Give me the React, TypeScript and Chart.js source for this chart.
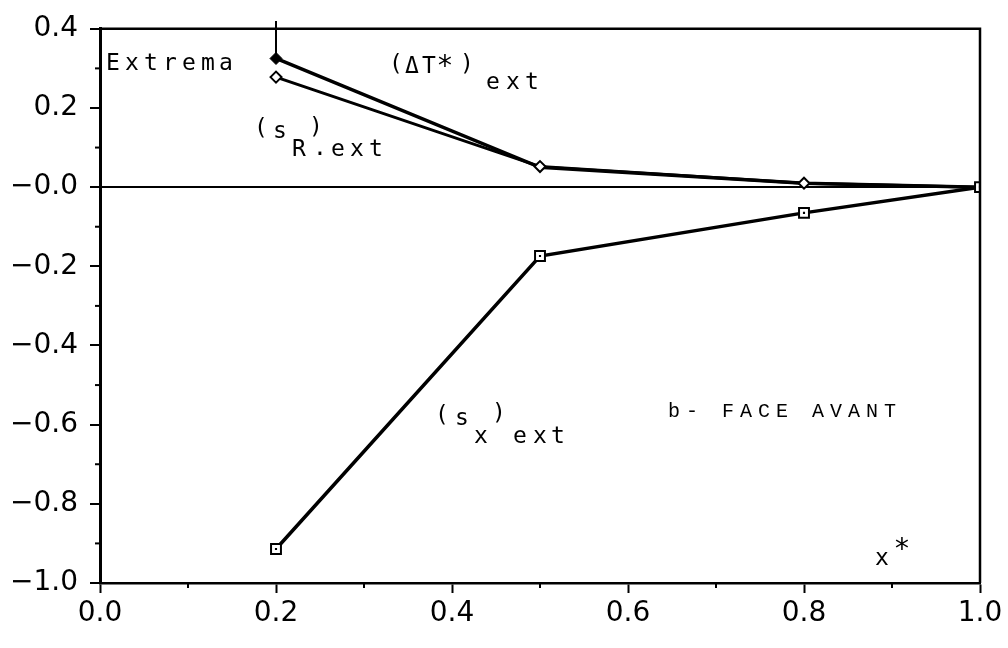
import React, { useEffect, useRef } from "react";
import { Chart, registerables } from "chart.js";

Chart.register(...registerables);

// ---- data ----
const xPositions = [0.2, 0.5, 0.8, 1.0];
const deltaTExt = [0.325, 0.05, 0.01, 0.0];
const sRExt = [0.278, 0.052, 0.01, 0.0];
const sXExt = [-0.914, -0.174, -0.065, 0.0];
const extremaMarkX = [0.2, 0.2];
const extremaMarkY = [0.325, 0.42];
const xTickLabels = ["0.0", "0.2", "0.4", "0.6", "0.8", "1.0"];
const yTickLabels = ["−1.0", "−0.8", "−0.6", "−0.4", "−0.2", "−0.0", "0.2", "0.4"];

const MONO = '"DejaVu Sans Mono", monospace';
const TYPE = '"Liberation Mono", "Courier New", monospace';
const TICKFONT = '"DejaVu Sans", sans-serif';

function glyphs(
  ctx: CanvasRenderingContext2D,
  chars: string,
  centers: number[],
  baselines: number | number[],
  font: string
) {
  ctx.font = font;
  ctx.textAlign = "center";
  ctx.textBaseline = "alphabetic";
  ctx.fillStyle = "#000";
  Array.from(chars).forEach((c, i) => {
    const b = Array.isArray(baselines) ? baselines[i] : baselines;
    ctx.fillText(c, centers[i], b);
  });
}

const framePlugin = {
  id: "frameAndNotes",
  afterDatasetsDraw(chart: any) {
    const { ctx, chartArea } = chart;
    const xs = chart.scales.x;
    const ys = chart.scales.y;
    ctx.save();
    ctx.strokeStyle = "#000";
    // top and right frame
    ctx.lineWidth = 2.5;
    ctx.beginPath();
    ctx.moveTo(chartArea.left, chartArea.top);
    ctx.lineTo(chartArea.right, chartArea.top);
    ctx.lineTo(chartArea.right, chartArea.bottom);
    ctx.stroke();
    // minor ticks
    ctx.lineWidth = 2;
    ys.ticks.forEach((t: any, i: number) => {
      if (i % 2 === 1) {
        const p = ys.getPixelForTick(i);
        ctx.beginPath();
        ctx.moveTo(chartArea.left - 5, p);
        ctx.lineTo(chartArea.left + 2, p);
        ctx.stroke();
      }
    });
    xs.ticks.forEach((t: any, i: number) => {
      if (i % 2 === 1) {
        const p = xs.getPixelForTick(i);
        ctx.beginPath();
        ctx.moveTo(p, chartArea.bottom - 1);
        ctx.lineTo(p, chartArea.bottom + 5);
        ctx.stroke();
      }
    });

    // annotations
    const f = `23px ${MONO}`;
    const star = `28px ${MONO}`;
    glyphs(ctx, "Extrema", [113, 132, 151, 170, 189, 208, 226], 70, f);

    glyphs(ctx, "(ΔT", [396, 412, 429], [71, 73, 73], f);
    glyphs(ctx, "*", [445], 75, star);
    glyphs(ctx, ")", [467], 71, f);
    glyphs(ctx, "ext", [493, 513, 532], 89, f);

    glyphs(ctx, "(s", [261, 280], [135, 138], f);
    glyphs(ctx, "R", [299], 156, f);
    glyphs(ctx, ")", [316], 134, f);
    glyphs(ctx, ".", [320], 155, f);
    glyphs(ctx, "ext", [338, 357, 376], 156, f);

    glyphs(ctx, "(s", [442, 462], [422, 425], f);
    glyphs(ctx, "x", [481], 443, f);
    glyphs(ctx, ")", [499], 420, f);
    glyphs(ctx, "ext", [520, 540, 558], 443, f);

    const face = "b- FACE AVANT";
    glyphs(
      ctx,
      face,
      Array.from(face).map((_, i) => 674 + 18 * i),
      417,
      `20px ${TYPE}`
    );

    glyphs(ctx, "x", [882], 565, f);
    glyphs(ctx, "*", [902], 558, star);
    ctx.restore();
  },
};

export default function App() {
  const ref = useRef<HTMLCanvasElement | null>(null);

  useEffect(() => {
    if (!ref.current) return;
    const pts = (ys: number[]) => xPositions.map((x, i) => ({ x, y: ys[i] }));
    const chart = new Chart(ref.current, {
      type: "line",
      data: {
        datasets: [
          {
            label: "(s_x)ext",
            data: pts(sXExt),
            borderColor: "#000",
            borderWidth: 3.5,
            pointStyle: "rect",
            pointRadius: 7,
            pointBorderWidth: 2,
            pointBackgroundColor: "#fff",
            pointBorderColor: "#000",
            order: 0,
          },
          {
            label: "(s_x)ext centre",
            data: pts(sXExt),
            showLine: false,
            pointStyle: "rect",
            pointRadius: 1.5,
            pointBorderWidth: 0,
            pointBackgroundColor: "#000",
            order: -1,
          },
          {
            label: "(s_R)ext",
            data: pts(sRExt),
            borderColor: "#000",
            borderWidth: 3,
            pointStyle: "rectRot",
            pointRadius: [5.5, 5.5, 5.5, 0],
            pointBorderWidth: 2,
            pointBackgroundColor: "#fff",
            pointBorderColor: "#000",
            order: 1,
          },
          {
            label: "(ΔT*)ext",
            data: pts(deltaTExt),
            borderColor: "#000",
            borderWidth: 3.5,
            pointStyle: "rectRot",
            pointRadius: [6, 0, 0, 0],
            pointBorderWidth: 1,
            pointBackgroundColor: "#000",
            pointBorderColor: "#000",
            order: 2,
          },
          {
            label: "extrema mark",
            data: extremaMarkX.map((x, i) => ({ x, y: extremaMarkY[i] })),
            borderColor: "#000",
            borderWidth: 2,
            pointRadius: 0,
            clip: false as any,
            order: 3,
          },
        ],
      },
      options: {
        animation: false,
        responsive: false,
        maintainAspectRatio: false,
        layout: { padding: { top: 22, right: 28, left: 0, bottom: 0 } },
        plugins: { legend: { display: false }, tooltip: { enabled: false } },
        elements: { line: { tension: 0 } },
        scales: {
          x: {
            type: "linear",
            min: 0,
            max: 1,
            afterFit: (s: any) => {
              s.height = 65;
            },
            ticks: {
              stepSize: 0.1,
              autoSkip: false,
              maxRotation: 0,
              padding: 4,
              color: "#000",
              font: { family: TICKFONT, size: 28 },
              callback: (_v: any, i: number) => (i % 2 === 0 ? xTickLabels[i / 2] : ""),
            },
            grid: {
              drawOnChartArea: false,
              tickLength: 10,
              tickWidth: 2,
              tickColor: (c: any) => (c.index % 2 === 0 ? "#000" : "rgba(0,0,0,0)"),
            },
            border: { display: true, color: "#000", width: 2.5 },
          },
          y: {
            type: "linear",
            min: -1,
            max: 0.4,
            afterFit: (s: any) => {
              s.width = 100;
            },
            ticks: {
              stepSize: 0.1,
              autoSkip: false,
              padding: 12,
              color: "#000",
              font: { family: TICKFONT, size: 28 },
              callback: (_v: any, i: number) => (i % 2 === 0 ? yTickLabels[i / 2] : ""),
            },
            grid: {
              drawOnChartArea: true,
              color: (c: any) =>
                c.tick && Math.abs(c.tick.value) < 1e-9 ? "#000" : "rgba(0,0,0,0)",
              lineWidth: 2,
              tickLength: 10,
              tickWidth: 2,
              tickColor: (c: any) => (c.index % 2 === 0 ? "#000" : "rgba(0,0,0,0)"),
            },
            border: { display: true, color: "#000", width: 3 },
          },
        },
      },
      plugins: [framePlugin],
    });
    return () => chart.destroy();
  }, []);

  return (
    <div
      style={{
        position: "fixed",
        left: 0,
        top: 0,
        width: 1008,
        height: 648,
        background: "#fff",
      }}
    >
      <canvas ref={ref} width={1008} height={648} style={{ display: "block" }} />
    </div>
  );
}
